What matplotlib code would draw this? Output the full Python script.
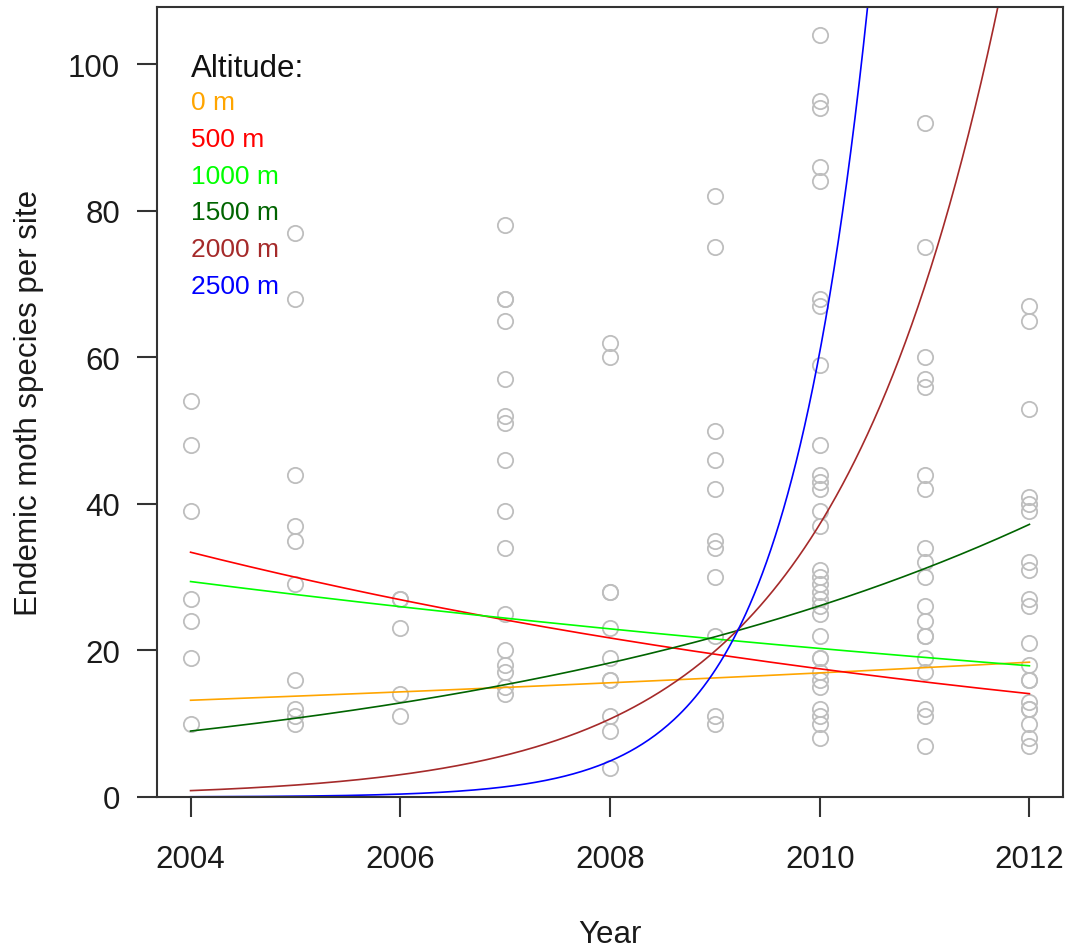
import numpy as np
import matplotlib
matplotlib.use('Agg')
from matplotlib import pyplot as plt

plt.rcParams['font.family'] = ['Liberation Sans', 'DejaVu Sans']

# Endemic moth species counted per site, one list per survey year
years = [2004, 2005, 2006, 2007, 2008, 2009, 2010, 2011, 2012]
counts_2004 = [54, 48, 39, 27, 24, 19, 10]
counts_2005 = [77, 68, 44, 37, 35, 29, 16, 12, 11, 10]
counts_2006 = [27, 27, 23, 14, 11]
counts_2007 = [78, 68, 68, 65, 57, 52, 51, 46, 39, 34, 25, 20, 18, 17, 15, 14]
counts_2008 = [62, 60, 28, 28, 23, 19, 16, 16, 11, 9, 4]
counts_2009 = [82, 75, 50, 46, 42, 35, 34, 30, 22, 11, 10]
counts_2010 = [104, 95, 94, 86, 84, 68, 67, 59, 48, 44, 43, 42, 39, 37, 31, 30,
               29, 28, 27, 26, 25, 22, 19, 19, 17, 16, 15, 12, 11, 10, 8]
counts_2011 = [92, 75, 60, 57, 56, 44, 42, 34, 32, 30, 26, 24, 22, 22, 19, 17,
               12, 11, 7]
counts_2012 = [67, 65, 53, 41, 40, 39, 32, 31, 27, 26, 21, 18, 16, 16, 13, 12,
               12, 10, 8, 7]
counts = [counts_2004, counts_2005, counts_2006, counts_2007, counts_2008,
          counts_2009, counts_2010, counts_2011, counts_2012]

# Fitted log-linear trends per altitude: value in 2004 and yearly log rate
altitudes = ['0 m', '500 m', '1000 m', '1500 m', '2000 m', '2500 m']
fit_start = [13.2, 33.4, 29.4, 9.0, 0.87, 0.032]
fit_rate = [0.0415, -0.1078, -0.062, 0.1774, 0.626, 1.258]
colours = ['#FFA500', '#FF0000', '#00FF00', '#006400', '#A52A2A', '#0000FF']

fig = plt.figure(figsize=(10.72, 9.53), dpi=100)
ax = fig.add_axes([157 / 1072, 1 - 798 / 953, (1063 - 157) / 1072, 790 / 953])

for yr, vals in zip(years, counts):
    ax.plot([yr] * len(vals), vals, linestyle='none', marker='o', markersize=11,
            markerfacecolor='none', markeredgecolor='#BEBEBE', markeredgewidth=1.3)

t = np.linspace(years[0], years[-1], 400)
for start, rate, col in zip(fit_start, fit_rate, colours):
    ax.plot(t, start * np.exp(rate * (t - years[0])), color=col, lw=1.2)

ax.set_xlim(2003.68, 2012.32)
ax.set_ylim(0, 107.8)
ax.set_xticks([2004, 2006, 2008, 2010, 2012])
ax.set_yticks([0, 20, 40, 60, 80, 100])

for spine in ax.spines.values():
    spine.set_color('#333333')
    spine.set_linewidth(1.5)
ax.tick_params(length=14.5, width=1.5, color='#333333', labelsize=22.5,
               labelcolor='#1a1a1a')
ax.tick_params(axis='x', pad=19)
ax.tick_params(axis='y', pad=12)

ax.set_xlabel('Year', fontsize=22.5, color='#1a1a1a', labelpad=33)
ax.set_ylabel('Endemic moth species per site', fontsize=22.5, color='#1a1a1a',
              labelpad=17)

# Legend written as coloured text
ax.annotate('Altitude:', xy=(2004, (798 - 77) / 790), xycoords=('data', 'axes fraction'),
            va='baseline', ha='left', fontsize=22.5, color='#111111')
for i, (lab, col) in enumerate(zip(altitudes, colours)):
    ax.annotate(lab, xy=(2004, (798 - 110 - 36.8 * i) / 790),
                xycoords=('data', 'axes fraction'), va='baseline', ha='left',
                fontsize=19, color=col)

fig.savefig('out.png', dpi=100)
